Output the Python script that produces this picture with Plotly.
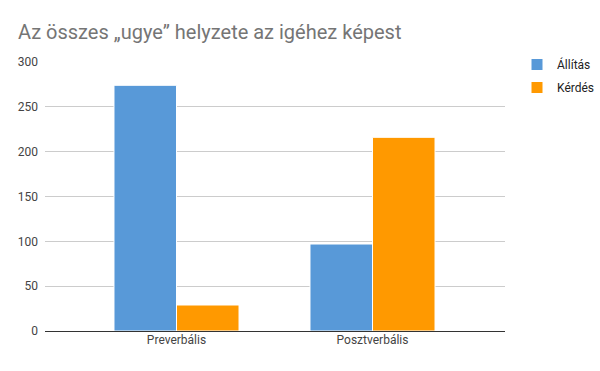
import plotly.graph_objects as go

categories = ["Preverbális", "Posztverbális"]
allitas = [274, 97]
kerdes = [29, 216]
series_names = ["Állítás", "Kérdés"]
colors = ["#5899d8", "#ff9900"]

fig = go.Figure()
for name, vals, col in zip(series_names, [allitas, kerdes], colors):
    fig.add_trace(go.Bar(
        x=categories, y=vals, name=name, legendgroup=name,
        marker=dict(color=col, line=dict(color="white", width=1)),
    ))

fig.update_layout(
    width=600, height=371,
    margin=dict(l=45, r=95, t=62, b=40, autoexpand=False),
    paper_bgcolor="white", plot_bgcolor="white",
    font=dict(family="Roboto", size=12, color="#444"),
    title=dict(text="Az összes „ugye” helyzete az igéhez képest",
               x=18/600, xanchor="left", y=1-32/371, yanchor="middle",
               font=dict(family="Roboto", size=20, color="#757575")),
    barmode="group", bargap=0.362, bargroupgap=0,
    legend=dict(xref="container", yref="container", x=517/600, xanchor="left",
                y=1-50/371, yanchor="top",
                font=dict(size=12, color="#222"), tracegroupgap=4,
                itemwidth=30),
    showlegend=True,
)
fig.update_xaxes(range=[-0.671, 1.676], showgrid=False, ticks="",
                 tickfont=dict(size=12, color="#444"), showline=False)
fig.update_yaxes(range=[0, 300], tickvals=[0, 50, 100, 150, 200, 250, 300],
                 gridcolor="#cccccc", gridwidth=1, zeroline=True,
                 zerolinecolor="#333333", zerolinewidth=1,
                 tickfont=dict(size=12, color="#444"), ticks="", ticklabelstandoff=6)

fig.write_html("out.html")
